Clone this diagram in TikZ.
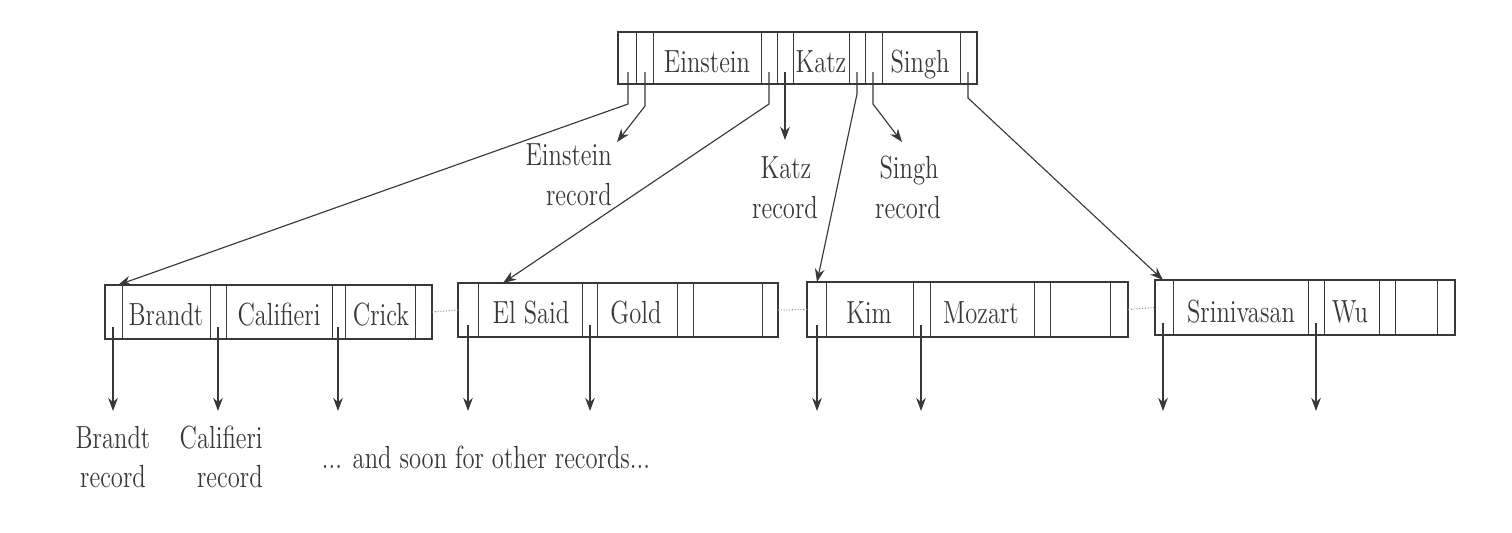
\documentclass[tikz,border=0pt]{standalone}
\usetikzlibrary{arrows.meta}
\definecolor{ink}{gray}{0.22}
\tikzset{
  box/.style={draw=ink, line width=0.8pt, inner sep=0pt, outer sep=0pt, anchor=north west},
  div/.style={draw=ink, line width=0.5pt},
  lbl/.style={text=ink, inner sep=0pt, anchor=base, font=\fontsize{14}{17}\selectfont},
  lble/.style={lbl, anchor=base east},
  stub/.style={draw=ink, line width=0.6pt},
  ptr/.style={draw=ink, line width=0.65pt, -{Stealth[length=7.5pt, width=5.5pt]}},
  link/.style={draw=ink!55, line width=0.6pt, densely dotted},
}
\newcommand\tall[1]{\scalebox{1}[1.3]{#1}}
\begin{document}
\begin{tikzpicture}[x=0.02cm, y=-0.02cm]
\useasboundingbox (0,0) rectangle (1512,532);

% ---------- root node ----------
\node[box, minimum width=7.18cm, minimum height=1.04cm] (root) at (618,32) {};
\foreach \x in {636,653,761,777,793,849,865,882,960} \draw[div] (\x,32) -- (\x,84);
\node[lbl] (rEin) at (707,72) {\tall{Einstein}};
\node[lbl] (rKatz) at (821,72) {\tall{Katz}};
\node[lbl] (rSingh) at (920,72) {\tall{Singh}};

% ---------- leaf nodes ----------
\node[box, minimum width=6.54cm, minimum height=1.08cm] (n1) at (105,285) {};
\foreach \x in {122,210,226,332,345,415} \draw[div] (\x,285) -- (\x,339);
\node[lbl] (lBrandt) at (166,325) {\tall{Brandt}};
\node[lbl] (lCalif) at (279,325) {\tall{Califieri}};
\node[lbl] (lCrick) at (381,325) {\tall{Crick}};

\node[box, minimum width=6.40cm, minimum height=1.08cm] (n2) at (458,283) {};
\foreach \x in {478,582,597,677,693,762} \draw[div] (\x,283) -- (\x,337);
\node[lbl] (lElSaid) at (531,323) {\tall{El Said}};
\node[lbl] (lGold) at (636,323) {\tall{Gold}};

\node[box, minimum width=6.42cm, minimum height=1.10cm] (n3) at (807,282) {};
\foreach \x in {826,913,930,1034,1050,1110} \draw[div] (\x,282) -- (\x,337);
\node[lbl] (lKim) at (869,323) {\tall{Kim}};
\node[lbl] (lMozart) at (981,323) {\tall{Mozart}};

\node[box, minimum width=6.00cm, minimum height=1.10cm] (n4) at (1155,280) {};
\foreach \x in {1173,1308,1324,1379,1395,1437} \draw[div] (\x,280) -- (\x,335);
\node[lbl] (lSrini) at (1241,322) {\tall{Srinivasan}};
\node[lbl] (lWu) at (1350,322) {\tall{Wu}};

% sibling links
\draw[link] (n1.east) -- (n2.west);
\draw[link] (n2.east) -- (n3.west);
\draw[link] (n3.east) -- (n4.west);

% ---------- pointer origins in root ----------
\coordinate (rp1) at (628,72);
\coordinate (rb1) at (645,72);
\coordinate (rp2) at (769,72);
\coordinate (rb2) at (785,72);
\coordinate (rp3) at (857,72);
\coordinate (rb3) at (873,72);
\coordinate (rp4) at (968,72);

% targets
\coordinate (t1) at (118,285);
\coordinate (t2) at (503,283);
\coordinate (t3) at (817,282);
\coordinate (t4) at (1163,280);
\coordinate (tEin) at (617,142);
\coordinate (tKatz) at (785,140);
\coordinate (tSingh) at (902,142);

\draw[ptr] (rp1) -- ++(0,32) -- (t1);
\draw[ptr] (rb1) -- ++(0,34) -- (tEin);
\draw[ptr] (rp2) -- ++(0,32) -- (t2);
\draw[ptr] (rb2) -- (tKatz);
\draw[ptr] (rp3) -- ++(0,22) -- (t3);
\draw[ptr] (rb3) -- ++(0,32) -- (tSingh);
\draw[ptr] (rp4) -- ++(0,26) -- (t4);

% record labels (upper)
\node[lble] (eRec1) at (612,165) {\tall{Einstein}};
\node[lble] (eRec2) at (612,205) {\tall{record}};
\node[lbl] (kRec1) at (786,178) {\tall{Katz}};
\node[lbl] (kRec2) at (785,218) {\tall{record}};
\node[lbl] (sRec1) at (909,178) {\tall{Singh}};
\node[lbl] (sRec2) at (908,218) {\tall{record}};

% ---------- leaf pointers ----------
\foreach \n/\x/\b in {a/113/339, b/218/339, c/338/339, d/468/337, e/590/337, f/817/337, g/921/337, h/1163/335, i/1316/335} {
  \coordinate (lp\n) at (\x,\b-12);
  \coordinate (lt\n) at (\x,411);
  \draw[ptr] (lp\n) -- (lt\n);
}

% lower labels
\node[lbl] (bRec1) at (113,448) {\tall{Brandt}};
\node[lbl] (bRec2) at (113,487) {\tall{record}};
\node[lble] (cRec1) at (263,448) {\tall{Califieri}};
\node[lble] (cRec2) at (263,487) {\tall{record}};
\node[lbl] (soon) at (486,468) {\tall{... and soon for other records...}};
\end{tikzpicture}
\end{document}
